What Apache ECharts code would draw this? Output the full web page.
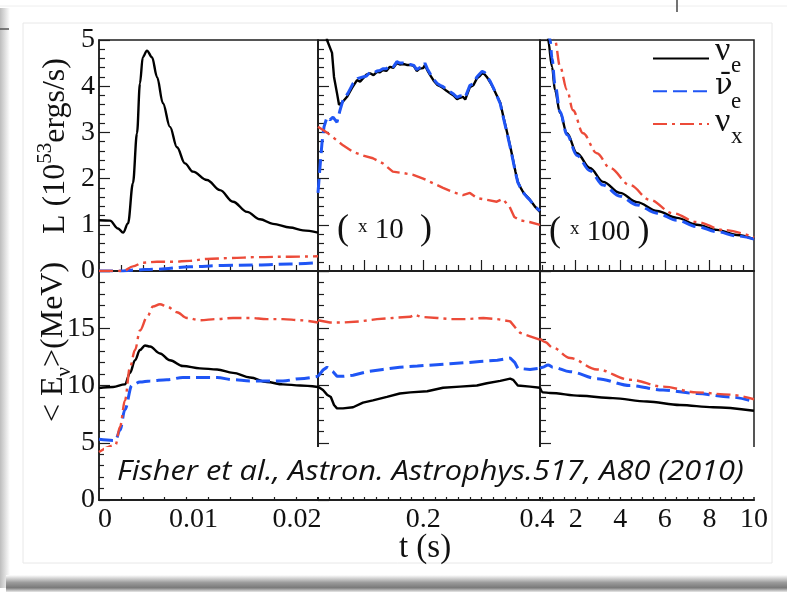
<!DOCTYPE html>
<html><head><meta charset="utf-8">
<script src="https://cdn.jsdelivr.net/npm/echarts@6/dist/echarts.min.js"></script>
<style>html,body{margin:0;padding:0;background:#fff;}#c{width:787px;height:594px;}</style>
</head><body><div id="c"></div>
<script>
// ---------------- DATA ----------------
const seriesNames = ['νe', 'ν̄e', 'νx'];
const legendSymbols = ['ν', 'ν̄', 'ν'];
const legendSubs = ['e', 'e', 'x'];
const yTicksLum = [0, 1, 2, 3, 4, 5];
const yTicksE = [0, 5, 10, 15];
const xLabelsEarly = [0, 0.01, 0.02];
const xLabelsMid = [0.2, 0.4];
const xLabelsLate = [2, 4, 6, 8, 10];
const scaleNotes = ['', '10', '100'];
const citation = 'Fisher et al., Astron. Astrophys.517, A80 (2010)';

// Luminosity, t in [0,0.02] s (10^53 erg/s)
const lumEarlyNue = [[0,1.10],[0.001,1.09],[0.00174,0.92],[0.0022,0.83],[0.00265,1.03],[0.0031,1.9],[0.00347,2.98],[0.00374,4.06],[0.004,4.63],[0.00438,4.77],[0.00484,4.63],[0.0053,4.2],[0.00584,3.63],[0.00648,3.12],[0.00712,2.68],[0.00785,2.33],[0.00858,2.15],[0.00986,1.97],[0.01105,1.75],[0.01224,1.5],[0.01352,1.28],[0.0147,1.12],[0.01589,1.02],[0.01744,0.94],[0.01863,0.88],[0.02,0.83]];
const lumEarlyNuebar = [[0,0],[0.0022,0.0],[0.0031,0.02],[0.0053,0.04],[0.0083,0.09],[0.0113,0.12],[0.0144,0.13],[0.01744,0.15],[0.02,0.18]];
const lumEarlyNux = [[0,0],[0.0022,0.0],[0.0031,0.1],[0.004,0.18],[0.0053,0.2],[0.0068,0.2],[0.0083,0.22],[0.00986,0.26],[0.012,0.28],[0.0144,0.3],[0.01744,0.31],[0.02,0.32]];
// t in [0.02,0.4] s (x10)
const lumMidNue = [[0.02,8.3],[0.028,6.3],[0.0354,5.0],[0.044,4.72],[0.0474,4.2],[0.0525,3.85],[0.056,3.6],[0.061,3.64],[0.0697,3.77],[0.078,3.96],[0.0868,4.13],[0.092,4.1],[0.097,4.17],[0.103,4.25],[0.109,4.28],[0.115,4.24],[0.121,4.31],[0.126,4.3],[0.131,4.35],[0.137,4.33],[0.143,4.42],[0.149,4.4],[0.155,4.5],[0.16,4.47],[0.166,4.48],[0.172,4.46],[0.178,4.46],[0.184,4.44],[0.189,4.33],[0.194,4.38],[0.2,4.39],[0.203,4.46],[0.207,4.35],[0.212,4.24],[0.218,4.12],[0.224,4.03],[0.229,4.0],[0.234,3.96],[0.24,3.9],[0.246,3.85],[0.252,3.8],[0.258,3.72],[0.263,3.75],[0.268,3.77],[0.272,3.71],[0.275,3.72],[0.28,3.98],[0.286,4.02],[0.292,4.17],[0.297,4.22],[0.301,4.28],[0.305,4.26],[0.309,4.2],[0.315,4.08],[0.32,3.96],[0.326,3.8],[0.332,3.64],[0.338,3.3],[0.344,2.98],[0.349,2.7],[0.354,2.4],[0.358,2.15],[0.362,1.93],[0.367,1.8],[0.371,1.71],[0.377,1.62],[0.383,1.54],[0.391,1.4],[0.4,1.28]];
const lumMidNuebar = [[0.02,1.69],[0.0234,2.25],[0.0268,2.77],[0.0303,3.12],[0.0354,3.33],[0.0405,3.27],[0.0457,3.33],[0.0525,3.22],[0.0577,3.48],[0.0628,3.7],[0.0714,3.85],[0.08,4.06],[0.0885,4.17],[0.097,4.2],[0.103,4.22],[0.109,4.3],[0.115,4.28],[0.121,4.33],[0.126,4.34],[0.131,4.38],[0.137,4.38],[0.143,4.45],[0.149,4.42],[0.155,4.53],[0.16,4.5],[0.166,4.5],[0.172,4.48],[0.178,4.47],[0.184,4.45],[0.189,4.36],[0.194,4.4],[0.2,4.42],[0.203,4.5],[0.207,4.38],[0.212,4.27],[0.218,4.15],[0.224,4.06],[0.229,4.02],[0.234,3.99],[0.24,3.93],[0.246,3.88],[0.252,3.83],[0.258,3.76],[0.263,3.79],[0.268,3.8],[0.272,3.76],[0.275,3.77],[0.28,4.02],[0.286,4.05],[0.292,4.2],[0.297,4.27],[0.301,4.32],[0.305,4.3],[0.309,4.22],[0.315,4.1],[0.32,3.97],[0.326,3.8],[0.332,3.62],[0.338,3.28],[0.344,2.96],[0.349,2.68],[0.354,2.38],[0.358,2.13],[0.362,1.92],[0.367,1.79],[0.371,1.7],[0.377,1.61],[0.383,1.53],[0.391,1.4],[0.4,1.3]];
const lumMidNux = [[0.02,3.12],[0.0286,3.05],[0.037,2.98],[0.052,2.83],[0.0628,2.72],[0.08,2.58],[0.097,2.5],[0.114,2.44],[0.131,2.33],[0.148,2.15],[0.166,2.12],[0.183,2.08],[0.2,2.0],[0.217,1.9],[0.234,1.8],[0.251,1.71],[0.268,1.64],[0.28,1.69],[0.292,1.58],[0.309,1.54],[0.326,1.5],[0.336,1.56],[0.348,1.39],[0.356,1.17],[0.365,1.1],[0.382,1.06],[0.4,1.0]];
// t in [0.4,10] s (x100)
const lumLateNue = [[0.4,12.8],[0.5,9.6],[0.6,7.3],[0.68,6.0],[0.76,5.0],[0.94,4.42],[1.07,3.92],[1.3,3.42],[1.61,2.98],[2.06,2.55],[2.64,2.23],[3.23,1.93],[3.99,1.69],[4.75,1.49],[5.65,1.3],[6.54,1.15],[7.44,1.0],[8.34,0.89],[9.23,0.78],[10,0.69]];
const lumLateNuebar = [[0.4,13.0],[0.5,9.9],[0.6,7.7],[0.7,6.3],[0.85,5.0],[0.94,4.6],[1.07,4.05],[1.3,3.45],[1.61,2.95],[2.06,2.5],[2.64,2.17],[3.23,1.86],[3.99,1.62],[4.75,1.43],[5.65,1.25],[6.54,1.1],[7.44,0.96],[8.34,0.85],[9.23,0.76],[10,0.69]];
const lumLateNux = [[0.4,10.0],[0.55,8.2],[0.7,6.8],[0.88,5.7],[1.07,5.0],[1.3,4.42],[1.61,3.92],[1.88,3.48],[2.33,2.98],[2.95,2.55],[3.54,2.23],[4.43,1.86],[5.33,1.54],[6.36,1.25],[7.44,1.06],[8.61,0.89],[10,0.73]];

// Mean energy (MeV)
const eavgEarlyNue = [[0,9.78],[0.00128,9.87],[0.00237,10.1],[0.00283,11.1],[0.00329,12.2],[0.00374,13.1],[0.0042,13.5],[0.00466,13.4],[0.00557,12.8],[0.00648,12.2],[0.00767,11.7],[0.00922,11.5],[0.01078,11.4],[0.01224,11.1],[0.01379,10.7],[0.01534,10.3],[0.0168,10.1],[0.01836,10.0],[0.02,9.87]];
const eavgEarlyNuebar = [[0,5.3],[0.00128,5.2],[0.0015,5.2],[0.00192,6.1],[0.00237,7.9],[0.003,10.0],[0.00374,10.3],[0.00466,10.4],[0.0062,10.5],[0.00767,10.7],[0.00922,10.7],[0.01078,10.7],[0.01224,10.5],[0.01379,10.4],[0.01534,10.4],[0.0168,10.4],[0.01836,10.6],[0.02,10.8]];
const eavgEarlyNux = [[0,4.2],[0.0015,4.8],[0.00192,6.4],[0.00237,8.7],[0.00283,11.6],[0.00329,13.1],[0.00374,14.8],[0.0044,16.0],[0.00493,16.9],[0.00557,17.1],[0.0062,16.9],[0.00712,16.4],[0.00803,15.9],[0.00922,15.7],[0.01078,15.8],[0.01224,15.9],[0.01379,15.9],[0.01534,15.8],[0.0168,15.8],[0.01836,15.7],[0.02,15.5]];
const eavgMidNue = [[0.02,9.9],[0.0286,9.6],[0.0354,9.2],[0.042,9.0],[0.0474,8.3],[0.0525,8.0],[0.0628,8.0],[0.08,8.1],[0.097,8.5],[0.114,8.7],[0.138,9.0],[0.16,9.3],[0.178,9.4],[0.207,9.5],[0.234,9.8],[0.263,9.9],[0.292,10.0],[0.309,10.2],[0.332,10.4],[0.349,10.6],[0.354,10.5],[0.362,10.0],[0.383,9.9],[0.4,9.8]];
const eavgMidNuebar = [[0.02,10.8],[0.0286,11.35],[0.0354,11.6],[0.0405,11.35],[0.0457,11.2],[0.0525,10.8],[0.0628,10.8],[0.08,10.9],[0.104,11.2],[0.131,11.4],[0.16,11.6],[0.19,11.7],[0.217,11.8],[0.246,11.9],[0.275,12.0],[0.297,12.1],[0.327,12.2],[0.349,12.4],[0.357,12.0],[0.362,11.5],[0.383,11.4],[0.4,11.5]];
const eavgMidNux = [[0.02,15.7],[0.0405,15.5],[0.0628,15.5],[0.092,15.6],[0.121,15.8],[0.148,15.9],[0.178,16.0],[0.186,16.2],[0.195,16.0],[0.224,15.9],[0.246,15.8],[0.275,15.8],[0.303,15.9],[0.327,15.8],[0.349,15.6],[0.357,15.1],[0.366,14.6],[0.383,14.3],[0.4,14.0]];
const eavgLateNue = [[0.4,9.8],[0.53,9.4],[0.85,9.35],[2.19,9.1],[3.67,8.9],[5.2,8.6],[6.68,8.3],[8.16,8.1],[10,7.8]];
const eavgLateNuebar = [[0.4,11.5],[0.53,11.6],[0.76,11.8],[0.98,11.6],[1.75,11.2],[2.96,10.6],[4.44,10.0],[5.92,9.6],[7.44,9.3],[8.92,9.0],[10,8.6]];
const eavgLateNux = [[0.4,14.1],[0.62,13.8],[0.98,13.3],[1.75,12.4],[2.96,11.4],[4.44,10.5],[5.92,9.9],[7.44,9.4],[8.92,9.2],[10,8.8]];

// ---------------- CHART ----------------
const SERIF = "'Liberation Serif','Times New Roman',serif";
const AX = '#1e1e1e';
const COLORS = ['#000000', '#1f55f5', '#ec4b39'];
const DASH = ['solid', [14, 6], [14, 5, 3, 5]];
const WIDTH = [2.4, 3, 2.4];

const grids = [
  {left: 99, top: 40, width: 219, height: 231},
  {left: 318, top: 40, width: 222, height: 231},
  {left: 540, top: 40, width: 214, height: 231},
  {left: 99, top: 271, width: 219, height: 229},
  {left: 318, top: 271, width: 222, height: 229},
  {left: 540, top: 271, width: 214, height: 229}
];
const xRanges = [[0, 0.02], [0.02, 0.4], [0.4, 10]];
function steps(a, b, s, skip) {
  const out = [];
  for (let k = Math.round(a / s); k * s <= b + 1e-9; k++) {
    const v = +(k * s).toFixed(6);
    if (v > a + 1e-9 && v < b - 1e-9 && !skip.some(q => Math.abs(q - v) < 1e-9)) out.push(v);
  }
  return out;
}
const majorX = [[0.01], [0.1, 0.2, 0.3], [2, 4, 6, 8]];
const minorX = [steps(0, 0.02, 0.002, majorX[0]), steps(0.02, 0.4, 0.02, majorX[1]), steps(0.4, 10, 0.5, majorX[2])];
const xLabelVals = [xLabelsEarly, xLabelsMid, xLabelsLate];
const xLabelShift = [[6, -15, -21], [0, -3], [0, 0, 0, 0, 0]];

function xLabelCfg(col) {
  const vals = xLabelVals[col], sh = xLabelShift[col], rich = {};
  vals.forEach((v, i) => {
    const d = sh[i];
    rich['s' + i] = {fontFamily: SERIF, fontSize: 28, color: '#111',
      padding: d >= 0 ? [0, 0, 0, 2 * d] : [0, -2 * d, 0, 0]};
  });
  return {show: true, customValues: vals, margin: 6, fontFamily: SERIF, fontSize: 28, color: '#111',
    formatter: v => { const i = vals.findIndex(u => Math.abs(u - v) < 1e-9); return '{s' + i + '|' + String(v) + '}'; },
    rich};
}

const xAxis = [], yAxis = [], series = [];
grids.forEach((g, gi) => {
  const col = gi % 3, row = gi < 3 ? 0 : 1;
  const base = {gridIndex: gi, type: 'value', min: xRanges[col][0], max: xRanges[col][1], position: 'bottom',
    axisLine: {show: true, lineStyle: {color: AX, width: 1.5}}, splitLine: {show: false}};
  xAxis.push(Object.assign({}, base, {
    axisTick: {show: true, inside: true, length: 6, customValues: minorX[col], lineStyle: {color: AX, width: 1.2}},
    axisLabel: {show: false}}));
  xAxis.push(Object.assign({}, base, {
    axisTick: {show: true, inside: true, length: 11, customValues: majorX[col], lineStyle: {color: AX, width: 1.2}},
    axisLabel: row === 1 ? xLabelCfg(col) : {show: false}}));
  yAxis.push({gridIndex: gi, type: 'value', min: 0, max: row === 0 ? 5 : 20, interval: row === 0 ? 1 : 5,
    position: 'left',
    axisLine: {show: true, lineStyle: {color: AX, width: 1.5}},
    axisTick: {show: true, inside: true, length: 11, lineStyle: {color: AX, width: 1.2}},
    minorTick: {show: true, splitNumber: 5, length: 6, lineStyle: {color: AX, width: 1.2}},
    splitLine: {show: false}, minorSplitLine: {show: false},
    axisLabel: {show: col === 0, customValues: row === 0 ? yTicksLum : yTicksE, margin: 4,
      fontFamily: SERIF, fontSize: 28, color: '#111'}});
});

const panelData = [
  [lumEarlyNue, lumEarlyNuebar, lumEarlyNux],
  [lumMidNue, lumMidNuebar, lumMidNux],
  [lumLateNue, lumLateNuebar, lumLateNux],
  [eavgEarlyNue, eavgEarlyNuebar, eavgEarlyNux],
  [eavgMidNue, eavgMidNuebar, eavgMidNux],
  [eavgLateNue, eavgLateNuebar, eavgLateNux]
];
panelData.forEach((arrs, gi) => {
  const col = gi % 3;
  arrs.forEach((d, si) => {
    series.push({name: seriesNames[si], type: 'line', xAxisIndex: gi * 2, yAxisIndex: gi, data: d,
      symbol: 'none', smooth: col === 1 ? false : 0.35, smoothMonotone: 'x', clip: true,
      z: 3 + si, lineStyle: {color: COLORS[si], width: WIDTH[si], type: DASH[si]},
      itemStyle: {color: COLORS[si]}, animation: false});
  });
});

// legend glyph text placed beside the legend lines
const LEG_TOP = 53, LEG_STEP = 35.5;
const legendText = [];
seriesNames.forEach((n, i) => {
  const cy = LEG_TOP + 7 + i * LEG_STEP;
  legendText.push({type: 'text', x: 715, y: cy - 9, z: 41, style: {text: legendSymbols[i], fill: '#111',
    fontFamily: i === 1 ? "'DejaVu Serif',serif" : SERIF, fontSize: i === 1 ? 29 : 34,
    align: 'left', verticalAlign: 'middle', textAlign: 'left', textVerticalAlign: 'middle'}});
  legendText.push({type: 'text', x: 731, y: cy + 6, z: 41, style: {text: legendSubs[i], fill: '#111',
    fontFamily: SERIF, fontSize: 23, align: 'left', verticalAlign: 'middle', textAlign: 'left', textVerticalAlign: 'middle'}});
});

const graphic = [
  // page decoration
  {type: 'rect', shape: {x: 0, y: 8, width: 10, height: 580}, z: -5,
    style: {fill: new echarts.graphic.LinearGradient(0, 0, 1, 0, [{offset: 0, color: '#bdbdbd'}, {offset: 1, color: '#ffffff'}])}},
  {type: 'rect', shape: {x: 6, y: 575, width: 781, height: 17}, z: -5,
    style: {fill: new echarts.graphic.LinearGradient(0, 0, 0, 1, [{offset: 0, color: '#ffffff'}, {offset: 0.45, color: '#9a9a9a'}, {offset: 0.75, color: '#7a7a7a'}, {offset: 1, color: '#e8e8e8'}])}},
  {type: 'rect', shape: {x: 23, y: 23, width: 749, height: 540}, z: -4, style: {fill: 'none', stroke: '#e8e8e8', lineWidth: 1}},
  {type: 'line', shape: {x1: 0, y1: 6, x2: 787, y2: 6}, z: -4, style: {stroke: '#eeeeee', lineWidth: 1}},
  {type: 'line', shape: {x1: 0, y1: 29, x2: 9, y2: 29}, z: -4, style: {stroke: '#555', lineWidth: 1.5}},
  {type: 'line', shape: {x1: 677, y1: 0, x2: 677, y2: 12}, z: -4, style: {stroke: '#444', lineWidth: 1.5}},
  // citation box
  {type: 'rect', shape: {x: 104, y: 447, width: 660, height: 50}, z: 40, style: {fill: '#ffffff'}},
  {type: 'text', x: 117, y: 472, scaleX: 1.1, z: 41, style: {text: citation, fill: '#111', fontFamily: "'Open Sans',Lato,sans-serif",
    fontStyle: 'italic', fontSize: 28, align: 'left', verticalAlign: 'middle', textAlign: 'left', textVerticalAlign: 'middle'}},
  // axis titles
  {type: 'text', x: 56, y: 146, rotation: Math.PI / 2, z: 41, style: {
    text: '{m|L (10}{sup|53}{m|ergs/s)}', align: 'center', verticalAlign: 'middle', textAlign: 'center', textVerticalAlign: 'middle',
    rich: {m: {fontFamily: SERIF, fontSize: 32, fill: '#111', color: '#111'}, sup: {fontFamily: SERIF, fontSize: 21, fill: '#111', color: '#111', padding: [0, 0, 22, 0]}}}},
  {type: 'text', x: 54, y: 342, rotation: Math.PI / 2, z: 41, style: {
    text: '{m|< E}{sub|ν}{m|>(MeV)}', align: 'center', verticalAlign: 'middle', textAlign: 'center', textVerticalAlign: 'middle',
    rich: {m: {fontFamily: SERIF, fontSize: 32, fill: '#111', color: '#111'}, sub: {fontFamily: SERIF, fontSize: 21, fill: '#111', color: '#111', padding: [20, 0, 0, 0]}}}},
  {type: 'text', x: 425, y: 548, z: 41, style: {text: 't (s)', fill: '#111', fontFamily: SERIF, fontSize: 33,
    align: 'center', verticalAlign: 'middle', textAlign: 'center', textVerticalAlign: 'middle'}},
  // scale notes
  {type: 'text', x: 337, y: 230, z: 41, style: {text: '{p|( }{x|x}{n| ' + scaleNotes[1] + ' }{p| )}', align: 'left', verticalAlign: 'middle', textAlign: 'left', textVerticalAlign: 'middle',
    rich: {p: {fontFamily: SERIF, fontSize: 36, fill: '#111'}, x: {fontFamily: SERIF, fontSize: 19, fill: '#111', padding: [0, 0, 6, 0]}, n: {fontFamily: SERIF, fontSize: 29, fill: '#111'}}}},
  {type: 'text', x: 549, y: 232, z: 41, style: {text: '{p|( }{x|x}{n| ' + scaleNotes[2] + ' }{p|)}', align: 'left', verticalAlign: 'middle', textAlign: 'left', textVerticalAlign: 'middle',
    rich: {p: {fontFamily: SERIF, fontSize: 36, fill: '#111'}, x: {fontFamily: SERIF, fontSize: 19, fill: '#111', padding: [0, 0, 6, 0]}, n: {fontFamily: SERIF, fontSize: 29, fill: '#111'}}}}
].concat(legendText);

const option = {
  animation: false,
  backgroundColor: '#ffffff',
  grid: grids.map(g => Object.assign({show: true, borderColor: AX, borderWidth: 1.5, backgroundColor: 'transparent'}, g)),
  xAxis, yAxis, series, graphic,
  legend: {
    data: seriesNames, orient: 'vertical', left: 652, top: LEG_TOP, padding: 0, itemWidth: 56, itemHeight: 14,
    itemGap: LEG_STEP - 14, selectedMode: false, inactiveColor: '#000',
    itemStyle: {opacity: 0, borderWidth: 0},
    formatter: () => '',
    textStyle: {fontSize: 10, lineHeight: 14, color: '#111'}
  }
};
const chart = echarts.init(document.getElementById('c'), null, {renderer: 'canvas'});
chart.setOption(option);
</script></body></html>
